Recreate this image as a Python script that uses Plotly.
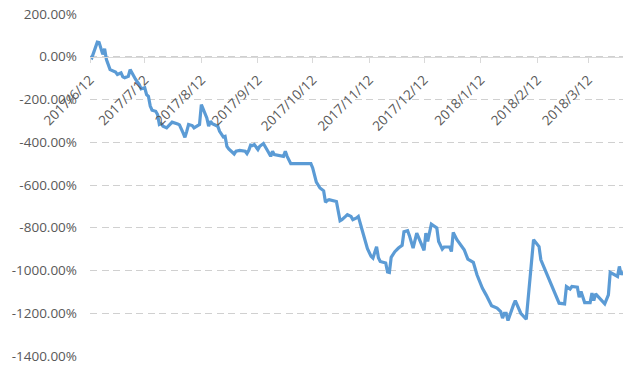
import plotly.graph_objects as go

dates = [
    "2017-06-12", "2017-06-13", "2017-06-16", "2017-06-17", "2017-06-19", "2017-06-20",
    "2017-06-21", "2017-06-22", "2017-06-23", "2017-06-26", "2017-06-27", "2017-06-29",
    "2017-06-30", "2017-07-01", "2017-07-03", "2017-07-04", "2017-07-06", "2017-07-07",
    "2017-07-09", "2017-07-10", "2017-07-12", "2017-07-13", "2017-07-14", "2017-07-15",
    "2017-07-16", "2017-07-18", "2017-07-19", "2017-07-20", "2017-07-21", "2017-07-22",
    "2017-07-24", "2017-07-25", "2017-07-27", "2017-07-30", "2017-07-31", "2017-08-02",
    "2017-08-03", "2017-08-04", "2017-08-05", "2017-08-07", "2017-08-08", "2017-08-10",
    "2017-08-11", "2017-08-12", "2017-08-13", "2017-08-14", "2017-08-15", "2017-08-16",
    "2017-08-17", "2017-08-18", "2017-08-20", "2017-08-21", "2017-08-22", "2017-08-24",
    "2017-08-25", "2017-08-26", "2017-08-27", "2017-08-29", "2017-08-30", "2017-08-31",
    "2017-09-02", "2017-09-05", "2017-09-06", "2017-09-07", "2017-09-08", "2017-09-09",
    "2017-09-10", "2017-09-12", "2017-09-13", "2017-09-15", "2017-09-16", "2017-09-18",
    "2017-09-19", "2017-09-20", "2017-09-21", "2017-09-23", "2017-09-25", "2017-09-26",
    "2017-09-27", "2017-09-28", "2017-09-30", "2017-10-05", "2017-10-11", "2017-10-12",
    "2017-10-13", "2017-10-14", "2017-10-16", "2017-10-18", "2017-10-19", "2017-10-20",
    "2017-10-21", "2017-10-23", "2017-10-25", "2017-10-27", "2017-10-28", "2017-10-30",
    "2017-10-31", "2017-11-02", "2017-11-03", "2017-11-05", "2017-11-06", "2017-11-08",
    "2017-11-09", "2017-11-11", "2017-11-13", "2017-11-14", "2017-11-16", "2017-11-17",
    "2017-11-18", "2017-11-20", "2017-11-21", "2017-11-22", "2017-11-23", "2017-11-24",
    "2017-11-26", "2017-11-28", "2017-11-30", "2017-12-01", "2017-12-03", "2017-12-04",
    "2017-12-06", "2017-12-08", "2017-12-12", "2017-12-13", "2017-12-14", "2017-12-16",
    "2017-12-19", "2017-12-20", "2017-12-22", "2017-12-23", "2017-12-26", "2017-12-27",
    "2017-12-28", "2017-12-30", "2018-01-03", "2018-01-05", "2018-01-08", "2018-01-10",
    "2018-01-13", "2018-01-15", "2018-01-17", "2018-01-18", "2018-01-21", "2018-01-23",
    "2018-01-24", "2018-01-25", "2018-01-26", "2018-01-27", "2018-01-30", "2018-01-31",
    "2018-02-03", "2018-02-06", "2018-02-10", "2018-02-13", "2018-02-14", "2018-02-17",
    "2018-02-20", "2018-02-24", "2018-02-27", "2018-02-28", "2018-03-02", "2018-03-03",
    "2018-03-06", "2018-03-07", "2018-03-08", "2018-03-10", "2018-03-13", "2018-03-14",
    "2018-03-15", "2018-03-16", "2018-03-21", "2018-03-23", "2018-03-24", "2018-03-28",
    "2018-03-29", "2018-03-30", "2018-03-31",
]

returns_pct = [
    0, -5, 68, 66, 11, 37,
    -13, -36, -60, -72, -83, -75,
    -94, -98, -91, -60, -94, -106,
    -130, -150, -145, -177, -185, -231,
    -250, -255, -270, -317, -313, -325,
    -333, -322, -306, -314, -319, -356,
    -377, -349, -317, -322, -333, -322,
    -317, -224, -247, -270, -286, -325,
    -302, -313, -322, -325, -349, -375,
    -372, -419, -431, -450, -455, -442,
    -438, -442, -453, -438, -414, -416,
    -411, -434, -419, -406, -419, -450,
    -466, -442, -458, -461, -461, -466,
    -442, -466, -500, -501, -500, -520,
    -561, -587, -614, -627, -681, -672,
    -669, -672, -677, -767, -762, -747,
    -739, -747, -762, -754, -747, -808,
    -840, -898, -934, -942, -889, -940,
    -958, -964, -965, -1007, -1009, -938,
    -912, -895, -882, -819, -814, -837,
    -895, -825, -906, -825, -864, -783,
    -801, -864, -900, -890, -890, -911,
    -822, -856, -903, -947, -962, -1020,
    -1083, -1114, -1150, -1165, -1176, -1192,
    -1223, -1200, -1200, -1234, -1161, -1141,
    -1200, -1228, -856, -888, -950, -1012,
    -1075, -1153, -1156, -1075, -1087, -1075,
    -1078, -1125, -1098, -1150, -1150, -1106,
    -1141, -1109, -1156, -1114, -1009, -1028,
    -981, -1020, -1005,
]

x_tick_dates = ["2017-06-12", "2017-07-12", "2017-08-12", "2017-09-12", "2017-10-12",
                "2017-11-12", "2017-12-12", "2018-01-12", "2018-02-12", "2018-03-12"]
x_tick_labels = ["2017/6/12", "2017/7/12", "2017/8/12", "2017/9/12", "2017/10/12",
                 "2017/11/12", "2017/12/12", "2018/1/12", "2018/2/12", "2018/3/12"]
y_ticks = [200, 0, -200, -400, -600, -800, -1000, -1200, -1400]
y_tick_labels = [f"{v:.2f}%" for v in y_ticks]

Y_MIN, Y_MAX = -1400, 200

fig = go.Figure()
fig.add_trace(go.Scatter(
    x=dates, y=returns_pct, mode="lines",
    line=dict(color="#5b9bd5", width=3.2),
    hoverinfo="skip", showlegend=False,
))

font = dict(family="Open Sans", size=13.5, color="#595959")

fig.update_layout(
    width=633, height=372,
    margin=dict(l=90, r=10, t=14, b=16),
    paper_bgcolor="white", plot_bgcolor="white",
    font=font,
    xaxis=dict(
        type="date",
        range=["2017-06-12", "2018-03-31"],
        tickmode="array", tickvals=x_tick_dates, ticktext=x_tick_labels,
        tickangle=-45,
        anchor="free", position=(0 - Y_MIN) / (Y_MAX - Y_MIN),
        showline=True, linecolor="#d9d9d9", linewidth=1,
        ticks="outside", ticklen=5, tickcolor="#d9d9d9",
        ticklabelstandoff=4,
        showgrid=False, zeroline=False, automargin=False,
        tickfont=font,
    ),
    yaxis=dict(
        range=[Y_MIN, Y_MAX],
        tickmode="array", tickvals=y_ticks, ticktext=y_tick_labels,
        showgrid=True, gridcolor="#d0d0d0", gridwidth=1.3, griddash="7px,4.5px",
        zeroline=False, showline=False, ticks="", automargin=False,
        ticklabelstandoff=12,
        tickfont=font,
    ),
)

fig.write_html("out.html")
